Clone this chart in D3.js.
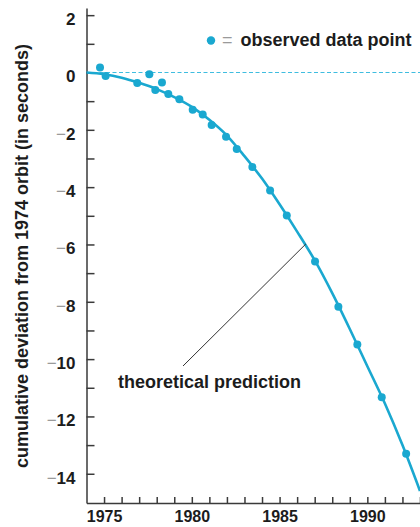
<!DOCTYPE html>
<html>
<head>
<meta charset="utf-8">
<script src="https://cdn.jsdelivr.net/npm/d3@7"></script>
<style>
  body { margin: 0; background: #fff; }
  svg { display: block; font-family: "Liberation Sans", Arial, Helvetica, sans-serif; font-weight: bold; }
</style>
</head>
<body>
<div class="board"></div>
<script>
var obsYears = [1974.77, 1975.09, 1976.89, 1977.58, 1977.92, 1978.30, 1978.66, 1979.29, 1980.05, 1980.62,
                1981.13, 1981.95, 1982.56, 1983.45, 1984.46, 1985.41, 1987.02, 1988.35, 1989.43, 1990.82, 1992.21];
var obsDev = [0.17, -0.12, -0.37, -0.06, -0.61, -0.35, -0.75, -0.93, -1.30, -1.47,
              -1.83, -2.24, -2.67, -3.30, -4.12, -4.99, -6.59, -8.17, -9.49, -11.33, -13.30];

var theoryYears = [1974, 1975, 1976, 1977, 1978, 1979, 1980, 1981, 1982, 1983,
                   1984, 1985, 1986, 1987, 1988, 1989, 1990, 1991, 1992, 1993];
var theoryDev = [0, -0.06, -0.18, -0.36, -0.58, -0.86, -1.2, -1.65, -2.2, -2.92,
                 -3.7, -4.6, -5.55, -6.55, -7.7, -8.95, -10.25, -11.55, -13.0, -14.6];

var xTickYears = d3.range(1975, 1994);
var xLabelYears = [1975, 1980, 1985, 1990];
var yTickValues = d3.range(-14, 3);

var opts = { width: 420, height: 527, cyan: '#1aa8d0', ink: '#1c1c1c', axis: '#3a3a3a' };

var svg = d3.select('.board').append('svg')
            .attr('width', opts.width)
            .attr('height', opts.height);

var x = d3.scaleLinear().domain([1974, 1993]).range([86.5, 420]);
var y = d3.scaleLinear().domain([-15.02, 2.25]).range([503, 8]);

// zero reference line
svg.append('line')
   .attr('x1', x(1974)).attr('x2', x(1993))
   .attr('y1', y(0)).attr('y2', y(0))
   .attr('stroke', '#3fbde0')
   .attr('stroke-width', 1.2)
   .attr('stroke-dasharray', '4,2.5');

var yAxis = svg.append('g')
               .attr('transform', 'translate(' + x(1974) + ',0)')
               .call(d3.axisLeft(y)
                       .tickValues(yTickValues)
                       .tickSize(-8)
                       .tickSizeOuter(0)
                       .tickPadding(11)
                       .tickFormat(function(d) { return d % 2 === 0 ? d : ''; }));

var xAxis = svg.append('g')
               .attr('transform', 'translate(0,' + y.range()[0] + ')')
               .call(d3.axisBottom(x)
                       .tickValues(xTickYears)
                       .tickSize(-6)
                       .tickSizeOuter(0)
                       .tickPadding(8)
                       .tickFormat(function(d) { return xLabelYears.indexOf(d) >= 0 ? d : ''; }));

svg.selectAll('.domain, .tick line')
   .attr('stroke', opts.axis)
   .attr('stroke-width', 1.5);

xAxis.selectAll('text')
     .attr('fill', opts.ink)
     .style('font-size', '16px')
     .style('font-family', 'inherit');

// y labels: grey minus sign, dark digits
yAxis.selectAll('text')
     .attr('fill', opts.ink)
     .attr('dy', '0.55em')
     .style('font-size', '17px')
     .style('font-family', 'inherit')
     .each(function(d) {
       if (d % 2 !== 0) return;
       var t = d3.select(this).text(null);
       if (d < 0) t.append('tspan').attr('fill', '#9a9a9a').style('font-weight', 'normal').text('\u2212');
       t.append('tspan').text(Math.abs(d));
     });

// theoretical curve
var line = d3.line()
             .x(function(d) { return x(d[0]); })
             .y(function(d) { return y(d[1]); })
             .curve(d3.curveMonotoneX);

svg.append('path')
   .datum(d3.zip(theoryYears, theoryDev))
   .attr('d', line)
   .attr('fill', 'none')
   .attr('stroke', opts.cyan)
   .attr('stroke-width', 2.6);

svg.selectAll('circle.obs')
   .data(d3.zip(obsYears, obsDev))
   .enter()
   .append('circle')
   .attr('class', 'obs')
   .attr('cx', function(d) { return x(d[0]); })
   .attr('cy', function(d) { return y(d[1]); })
   .attr('r', 4)
   .attr('fill', opts.cyan);

// leader line for the curve annotation
svg.append('line')
   .attr('x1', 183).attr('y1', 366)
   .attr('x2', x(1986.5)).attr('y2', y(-5.98))
   .attr('stroke', '#333')
   .attr('stroke-width', 1);

svg.append('text')
   .attr('x', 118).attr('y', 388)
   .attr('fill', opts.ink)
   .style('font-size', '18px')
   .text('theoretical prediction');

// legend
svg.append('circle')
   .attr('cx', 211).attr('cy', 40.5)
   .attr('r', 4.2)
   .attr('fill', opts.cyan);

var legend = svg.append('text')
                .attr('x', 222).attr('y', 46)
                .attr('fill', opts.ink)
                .style('font-size', '18px');
legend.append('tspan').attr('fill', '#9a9a9a').style('font-weight', 'normal').text('=');
legend.append('tspan').attr('dx', 8).text('observed data point');

svg.append('text')
   .attr('transform', 'translate(28,256) rotate(-90)')
   .attr('text-anchor', 'middle')
   .attr('fill', opts.ink)
   .style('font-size', '18px')
   .text('cumulative deviation from 1974 orbit (in seconds)');
</script>
</body>
</html>
